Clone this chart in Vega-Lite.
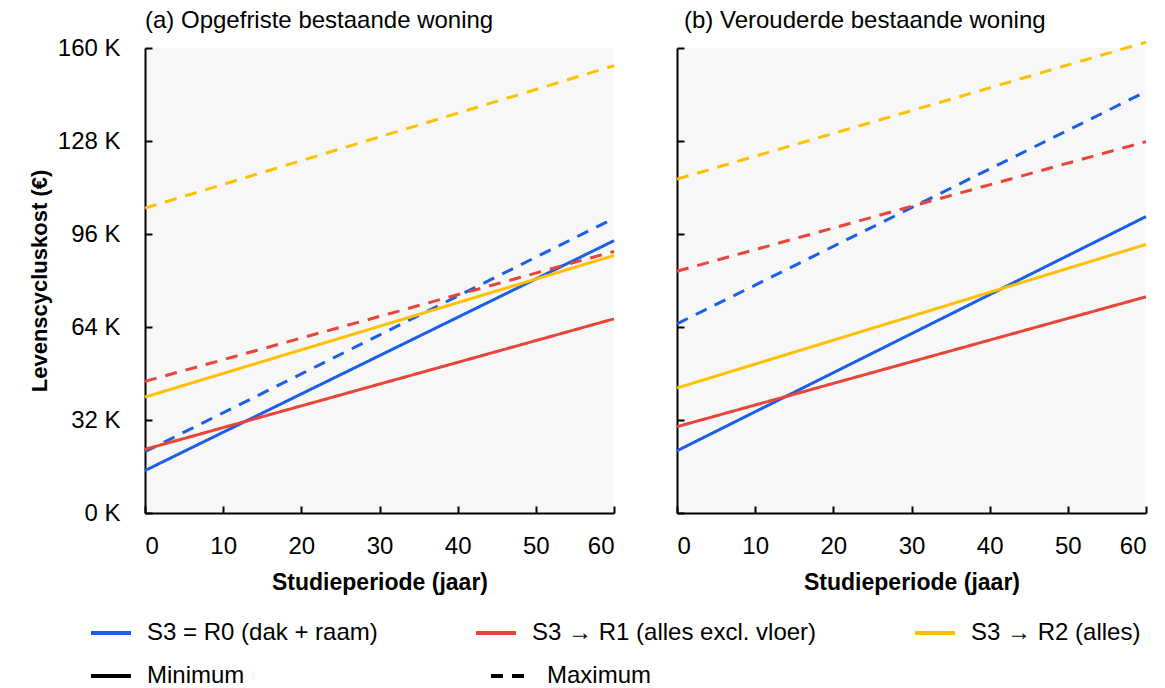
{
  "$schema": "https://vega.github.io/schema/vega-lite/v6.json",
  "background": "white",
  "padding": {"left": 28, "top": 9, "right": 10, "bottom": 10},
  "datasets": {
    "opgefrist": [
      {"scenario": "S3 = R0 (dak + raam)", "bound": "Minimum", "jaar": 0, "kost": 14.6},
      {"scenario": "S3 = R0 (dak + raam)", "bound": "Minimum", "jaar": 60, "kost": 93.7},
      {"scenario": "S3 = R0 (dak + raam)", "bound": "Maximum", "jaar": 0, "kost": 21.1},
      {"scenario": "S3 = R0 (dak + raam)", "bound": "Maximum", "jaar": 60, "kost": 101.4},
      {"scenario": "S3 → R1 (alles excl. vloer)", "bound": "Minimum", "jaar": 0, "kost": 21.9},
      {"scenario": "S3 → R1 (alles excl. vloer)", "bound": "Minimum", "jaar": 60, "kost": 66.8},
      {"scenario": "S3 → R1 (alles excl. vloer)", "bound": "Maximum", "jaar": 0, "kost": 45.3},
      {"scenario": "S3 → R1 (alles excl. vloer)", "bound": "Maximum", "jaar": 60, "kost": 90.0},
      {"scenario": "S3 → R2 (alles)", "bound": "Minimum", "jaar": 0, "kost": 39.9},
      {"scenario": "S3 → R2 (alles)", "bound": "Minimum", "jaar": 60, "kost": 88.6},
      {"scenario": "S3 → R2 (alles)", "bound": "Maximum", "jaar": 0, "kost": 104.9},
      {"scenario": "S3 → R2 (alles)", "bound": "Maximum", "jaar": 60, "kost": 153.9}
    ],
    "verouderd": [
      {"scenario": "S3 = R0 (dak + raam)", "bound": "Minimum", "jaar": 0, "kost": 21.4},
      {"scenario": "S3 = R0 (dak + raam)", "bound": "Minimum", "jaar": 60, "kost": 102.0},
      {"scenario": "S3 = R0 (dak + raam)", "bound": "Maximum", "jaar": 0, "kost": 65.1},
      {"scenario": "S3 = R0 (dak + raam)", "bound": "Maximum", "jaar": 60, "kost": 145.0},
      {"scenario": "S3 → R1 (alles excl. vloer)", "bound": "Minimum", "jaar": 0, "kost": 29.7},
      {"scenario": "S3 → R1 (alles excl. vloer)", "bound": "Minimum", "jaar": 60, "kost": 74.4},
      {"scenario": "S3 → R1 (alles excl. vloer)", "bound": "Maximum", "jaar": 0, "kost": 83.2},
      {"scenario": "S3 → R1 (alles excl. vloer)", "bound": "Maximum", "jaar": 60, "kost": 127.8},
      {"scenario": "S3 → R2 (alles)", "bound": "Minimum", "jaar": 0, "kost": 43.0},
      {"scenario": "S3 → R2 (alles)", "bound": "Minimum", "jaar": 60, "kost": 92.4},
      {"scenario": "S3 → R2 (alles)", "bound": "Maximum", "jaar": 0, "kost": 114.9},
      {"scenario": "S3 → R2 (alles)", "bound": "Maximum", "jaar": 60, "kost": 162.0}
    ]
  },
  "spacing": 51,
  "hconcat": [
    {
      "width": 469,
      "height": 465,
      "title": {"text": "(a) Opgefriste bestaande woning"},
      "data": {"name": "opgefrist"},
      "mark": {"type": "line", "strokeWidth": 3, "clip": false},
      "encoding": {
        "x": {"field": "jaar", "type": "quantitative", "scale": {"domain": [0, 60], "nice": false}, "axis": {"values": [0, 10, 20, 30, 40, 50, 60], "title": "Studieperiode (jaar)"}},
        "y": {"field": "kost", "type": "quantitative", "scale": {"domain": [0, 160], "nice": false}, "axis": {"values": [0, 32, 64, 96, 128, 160], "labelExpr": "datum.value + ' K'", "title": "Levenscycluskost (€)"}},
        "color": {"field": "scenario", "type": "nominal"},
        "strokeDash": {"field": "bound", "type": "nominal"},
        "detail": {"field": "bound"}
      }
    },
    {
      "width": 469,
      "height": 465,
      "title": {"text": "(b) Verouderde bestaande woning", "dx": 7},
      "data": {"name": "verouderd"},
      "mark": {"type": "line", "strokeWidth": 3, "clip": false},
      "encoding": {
        "x": {"field": "jaar", "type": "quantitative", "scale": {"domain": [0, 60], "nice": false}, "axis": {"values": [0, 10, 20, 30, 40, 50, 60], "title": "Studieperiode (jaar)"}},
        "y": {"field": "kost", "type": "quantitative", "scale": {"domain": [0, 160], "nice": false}, "axis": {"values": [0, 32, 64, 96, 128, 160], "labels": false, "title": null}},
        "color": {
          "field": "scenario", "type": "nominal",
          "scale": {"domain": ["S3 = R0 (dak + raam)", "S3 → R1 (alles excl. vloer)", "S3 → R2 (alles)"], "range": ["#1a5fe6", "#e84438", "#ffc000"]},
          "legend": {"columns": 3, "columnPadding": 90, "legendX": -56, "legendY": 563}
        },
        "strokeDash": {
          "field": "bound", "type": "nominal",
          "scale": {"domain": ["Minimum", "Maximum"], "range": [[1, 0], [12, 9]]},
          "legend": {"columns": 2, "columnPadding": 238, "legendX": -56, "legendY": 606, "symbolStrokeColor": "black"}
        },
        "detail": {"field": "bound"}
      }
    }
  ],
  "resolve": {"scale": {"y": "independent", "x": "independent"}, "axis": {"y": "independent"}},
  "config": {
    "font": "Liberation Sans",
    "view": {"fill": "#f7f7f7", "stroke": null},
    "title": {"anchor": "start", "frame": "group", "fontSize": 24, "fontWeight": "normal", "color": "black", "offset": 3, "font": "Liberation Sans"},
    "axis": {
      "grid": false,
      "domainColor": "black",
      "domainWidth": 2,
      "tickColor": "black",
      "tickWidth": 2,
      "tickSize": -7,
      "labelFontSize": 24,
      "labelColor": "black",
      "labelFont": "Liberation Sans",
      "titleFontSize": 23,
      "titleFontWeight": "bold",
      "titleColor": "black",
      "titleFont": "Liberation Sans"
    },
    "axisX": {"labelPadding": 28, "titlePadding": 13},
    "axisY": {"labelPadding": 32, "titlePadding": 6, "titleFontSize": 22},
    "legend": {
      "orient": "none",
      "symbolType": "stroke",
      "symbolSize": 1600,
      "symbolStrokeWidth": 4,
      "labelFontSize": 24,
      "labelFont": "Liberation Sans",
      "labelColor": "black",
      "labelOffset": 14,
      "labelLimit": 400,
      "title": null
    }
  }
}
